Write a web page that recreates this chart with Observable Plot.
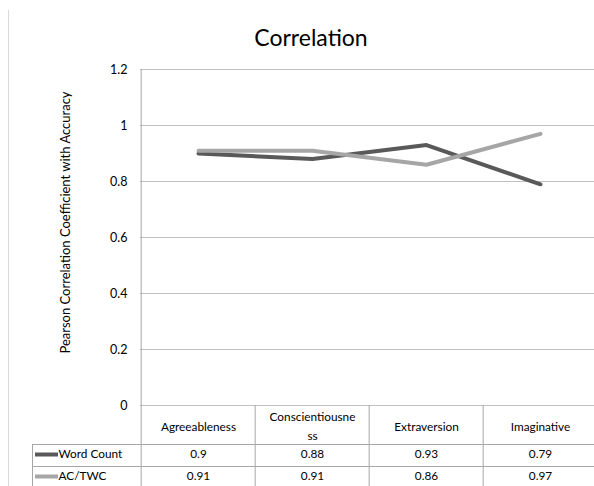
<!DOCTYPE html>
<html>
<head>
<meta charset="utf-8">
<script src="https://cdn.jsdelivr.net/npm/d3@7"></script>
<script src="https://cdn.jsdelivr.net/npm/@observablehq/plot@0.6"></script>
<style>
  html, body { margin: 0; padding: 0; background: #fff; overflow: hidden; }
  #wrap { position: relative; width: 594px; height: 486px; }
  #edge { position: absolute; left: 8px; top: 10px; width: 0; height: 476px; border-left: 1px solid #d9d9d9; }
  svg { display: block; }
</style>
</head>
<body>
<div id="wrap"><div id="edge"></div></div>
<script>
// ---- data ----
const title = "Correlation";
const yLabel = "Pearson Correlation Coefficient with Accuracy";
const categories = ["Agreeableness", "Conscientiousness", "Extraversion", "Imaginative"];
const headerLabels = ["Agreeableness", "Conscientiousne\nss", "Extraversion", "Imaginative"];
const seriesNames = ["Word Count", "AC/TWC"];
const wordCount = [0.9, 0.88, 0.93, 0.79];
const acTwc = [0.91, 0.91, 0.86, 0.97];
const yTicks = [0, 0.2, 0.4, 0.6, 0.8, 1, 1.2];
const seriesColors = ["#595959", "#a6a6a6"];

// ---- layout ----
const W = 594, H = 486;
const tableLeft = 32, plotLeft = 140, plotRight = 598.7;
const plotTop = 69, axisBottom = 405;
const step = (plotRight - plotLeft) / categories.length;
const row1 = 49, row2 = 71; // text offsets below the zero line
const font = "Lato, 'Open Sans', sans-serif";
const tableFont = 11.8;

const allSeries = [wordCount, acTwc];
const rows = allSeries.flatMap((vals, s) =>
  vals.map((v, i) => ({series: seriesNames[s], category: categories[i], value: v})));

const gridColor = "#c0c0c0";
const tableColor = "#a6a6a6";

const chart = Plot.plot({
  width: W,
  height: H,
  marginLeft: tableLeft,
  marginRight: 0,
  marginTop: plotTop,
  marginBottom: 0,
  style: {fontFamily: font, background: "#fff", color: "#000"},
  x: {type: "band", domain: categories, range: [plotLeft, plotRight], padding: 0, axis: null},
  y: {domain: [0, 1.2], range: [axisBottom, plotTop], axis: null},
  color: {domain: seriesNames, range: seriesColors},
  marks: [
    // horizontal gridlines (0 line is also the table top)
    Plot.ruleY(yTicks, {stroke: gridColor, insetLeft: plotLeft - tableLeft}),
    // value axis line, continuing through the table
    Plot.ruleX([categories[0]], {x: d => d, dx: -step / 2, stroke: tableColor}),
    // table column separators
    Plot.ruleX(categories.slice(1), {x: d => d, dx: -step / 2, stroke: tableColor, insetTop: axisBottom - plotTop}),
    // table row separators
    Plot.ruleY([0], {dy: 39, stroke: tableColor}),
    Plot.ruleY([0], {dy: 61, stroke: tableColor}),
    // table left border
    Plot.frame({anchor: "left", stroke: tableColor, insetTop: axisBottom - plotTop + 39}),
    // y tick labels
    Plot.text(yTicks, {
      y: d => d, text: d => d3.format("~g")(d), frameAnchor: "left",
      dx: 127 - tableLeft, textAnchor: "end", fontSize: 12.5, fill: "#000"
    }),
    // y axis title
    Plot.text([yLabel], {
      frameAnchor: "left", dx: 65 - tableLeft, dy: 222 - (plotTop + H) / 2,
      rotate: -90, textAnchor: "middle", lineAnchor: "middle", fontSize: 13, fill: "#000"
    }),
    // chart title
    Plot.text([title], {
      frameAnchor: "top", dx: 310.5 - (tableLeft + W) / 2, dy: 38 - plotTop,
      lineAnchor: "middle", fontSize: 23, fill: "#000"
    }),
    // series lines
    Plot.line(rows, {
      x: "category", y: "value", z: "series", stroke: "series",
      strokeWidth: 4, strokeLinejoin: "round", strokeLinecap: "round"
    }),
    // table header
    Plot.text(headerLabels, {
      x: (d, i) => categories[i], y: 0, dy: 19, text: d => d,
      fontSize: tableFont, lineHeight: 1.6, fill: "#000"
    }),
    // table values
    Plot.text(wordCount, {
      x: (d, i) => categories[i], y: 0, dy: row1, text: d => String(d), fontSize: tableFont, fill: "#000"
    }),
    Plot.text(acTwc, {
      x: (d, i) => categories[i], y: 0, dy: row2, text: d => String(d), fontSize: tableFont, fill: "#000"
    }),
    // legend keys in the table
    Plot.ruleY([0], {dy: row1, stroke: seriesColors[0], strokeWidth: 4, insetLeft: 3, insetRight: W - 58}),
    Plot.ruleY([0], {dy: row2, stroke: seriesColors[1], strokeWidth: 4, insetLeft: 3, insetRight: W - 58}),
    Plot.text([seriesNames[0]], {frameAnchor: "left", y: 0, dy: row1, dx: 58 - tableLeft, textAnchor: "start", fontSize: tableFont, fill: "#000"}),
    Plot.text([seriesNames[1]], {frameAnchor: "left", y: 0, dy: row2, dx: 58 - tableLeft, textAnchor: "start", fontSize: tableFont, fill: "#000"})
  ]
});

document.getElementById("wrap").appendChild(chart);
</script>
</body>
</html>
